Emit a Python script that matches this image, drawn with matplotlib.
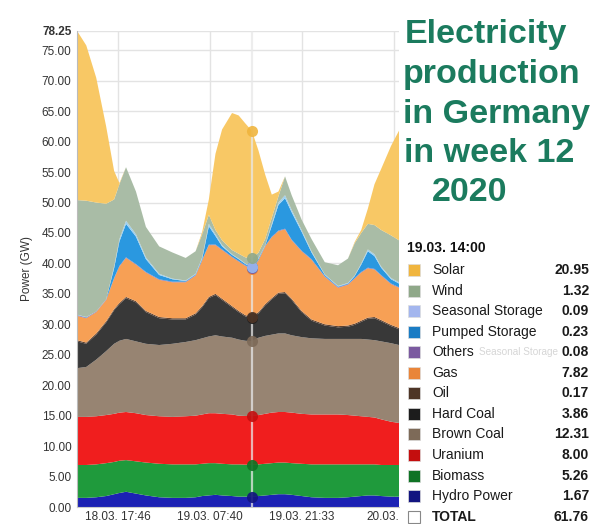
import numpy as np
import matplotlib
matplotlib.use('Agg')
import matplotlib.pyplot as plt
from matplotlib.patches import Rectangle
from matplotlib.transforms import ScaledTranslation

plt.rcParams['font.family'] = ['Liberation Sans', 'DejaVu Sans']

# ---------------- data (hours since 18.03.2020 00:00, GW) ----------------
hours = [11.6, 13, 14.5, 16, 17.2, 18, 19, 20.5, 22, 24, 26, 28, 29.5, 30.5, 31.5,
         32.5, 33.5, 35, 36, 37, 38, 39, 40, 41, 42, 43, 44, 45.5, 47, 49, 51,
         52.5, 53.5, 54.5, 55.5, 56.5, 57.5, 59, 60.2]

hydro = [1.5, 1.5, 1.6, 1.8, 2.1, 2.3, 2.5, 2.2, 1.9, 1.6, 1.5, 1.5, 1.6, 1.8, 1.9,
         2.0, 1.9, 1.8, 1.7, 1.7, 1.67, 1.8, 1.9, 2.0, 2.1, 2.1, 2.0, 1.8, 1.6, 1.5,
         1.5, 1.6, 1.7, 1.8, 1.9, 1.9, 1.8, 1.7, 1.7]
biomass = [5.4, 5.4, 5.4, 5.4, 5.3, 5.3, 5.2, 5.3, 5.4, 5.5, 5.5, 5.5, 5.4, 5.3, 5.3,
           5.2, 5.2, 5.2, 5.3, 5.25, 5.26, 5.2, 5.2, 5.2, 5.2, 5.2, 5.2, 5.3, 5.4, 5.5,
           5.5, 5.4, 5.3, 5.2, 5.1, 5.1, 5.1, 5.2, 5.2]
uranium = [7.9, 7.9, 7.9, 7.9, 7.9, 7.9, 7.9, 7.9, 7.8, 7.8, 7.8, 7.9, 8.0, 8.1, 8.2,
           8.2, 8.2, 8.2, 8.0, 8.0, 8.00, 8.1, 8.2, 8.3, 8.3, 8.3, 8.3, 8.2, 8.2, 8.2,
           8.2, 8.1, 8.0, 7.9, 7.8, 7.7, 7.5, 7.1, 6.9]
brown_coal = [8.0, 8.2, 9.3, 10.5, 11.5, 11.8, 12.0, 11.8, 11.7, 11.7, 12.0, 12.2, 12.4,
              12.5, 12.6, 12.8, 12.7, 12.6, 12.5, 12.35, 12.31, 12.7, 12.8, 12.8, 12.9,
              12.9, 12.7, 12.6, 12.5, 12.4, 12.4, 12.5, 12.6, 12.7, 12.7, 12.7, 12.8,
              12.9, 12.8]
hard_coal = [4.4, 3.8, 4.1, 4.7, 5.5, 6.0, 6.7, 6.4, 5.2, 4.4, 4.0, 3.7, 4.2, 5.1, 6.3,
             6.6, 6.0, 5.0, 4.5, 4.0, 3.86, 4.0, 5.0, 5.8, 6.5, 6.6, 5.8, 4.1, 2.9, 2.2,
             1.9, 2.0, 2.3, 2.8, 3.4, 3.6, 3.3, 2.8, 2.6]
oil = [0.2, 0.2, 0.2, 0.2, 0.2, 0.2, 0.2, 0.2, 0.2, 0.2, 0.2, 0.2, 0.2, 0.2, 0.2,
       0.2, 0.2, 0.2, 0.2, 0.2, 0.17, 0.2, 0.2, 0.2, 0.2, 0.2, 0.2, 0.2, 0.2, 0.2,
       0.2, 0.2, 0.2, 0.2, 0.2, 0.2, 0.2, 0.2, 0.2]
gas = [4.0, 4.0, 3.5, 3.5, 5.0, 6.0, 6.4, 6.0, 6.3, 6.1, 5.9, 5.9, 6.2, 7.5, 8.5,
       8.0, 8.0, 8.0, 8.1, 8.1, 7.82, 8.5, 9.5, 10.0, 10.1, 10.3, 9.6, 9.8, 9.8, 7.8,
       6.3, 6.7, 7.4, 7.9, 8.1, 7.8, 7.3, 6.7, 6.6]
others = [0.1, 0.1, 0.1, 0.1, 0.1, 0.1, 0.1, 0.1, 0.1, 0.1, 0.1, 0.1, 0.1, 0.1, 0.1,
          0.1, 0.1, 0.1, 0.1, 0.1, 0.08, 0.1, 0.1, 0.1, 0.1, 0.1, 0.1, 0.1, 0.1, 0.1,
          0.1, 0.1, 0.1, 0.1, 0.1, 0.1, 0.1, 0.1, 0.1]
pumped_storage = [0.05, 0.05, 0.0, 0.0, 1.6, 4.0, 5.5, 4.5, 2.1, 0.7, 0.4, 0.1, 0.1, 0.2,
                  3.0, 1.4, 0.5, 0.3, 0.3, 0.2, 0.23, 0.2, 0.05, 1.8, 4.2, 5.0, 4.5, 3.1,
                  1.1, 0.2, 0.1, 0.1, 0.3, 1.2, 2.7, 2.1, 1.2, 0.7, 0.6]
seasonal_storage = [0.05, 0.05, 0.0, 0.0, 0.3, 0.4, 0.5, 0.4, 0.3, 0.2, 0.1, 0.1, 0.1, 0.2,
                    0.4, 0.3, 0.2, 0.1, 0.1, 0.1, 0.09, 0.1, 0.05, 0.3, 0.4, 0.5, 0.4, 0.3,
                    0.2, 0.1, 0.1, 0.1, 0.1, 0.2, 0.3, 0.3, 0.2, 0.2, 0.2]
wind = [18.8, 19.1, 17.9, 15.7, 11.0, 9.0, 8.8, 7.0, 5.0, 4.5, 4.3, 3.7, 3.7, 3.8, 1.5,
        0.7, 0.8, 0.7, 0.8, 1.0, 1.32, 0.9, 1.0, 1.0, 1.0, 3.1, 2.4, 1.7, 2.0, 2.0,
        3.4, 4.0, 5.3, 5.0, 4.2, 4.8, 6.0, 7.0, 6.9]
solar = [27.8, 25.5, 20.5, 12.7, 4.7, 0.2, 0, 0, 0, 0, 0, 0, 0, 0.4, 2.5,
         12.5, 18.2, 22.5, 22.7, 22.0, 20.95, 16.7, 10.6, 3.8, 0.8, 0, 0, 0, 0, 0,
         0, 0, 0.2, 0.5, 2.5, 6.7, 10.0, 14.7, 18.0]

# bottom -> top stacking order
names = ['Hydro Power', 'Biomass', 'Uranium', 'Brown Coal', 'Hard Coal', 'Oil', 'Gas',
         'Others', 'Pumped Storage', 'Seasonal Storage', 'Wind', 'Solar']
series = [hydro, biomass, uranium, brown_coal, hard_coal, oil, gas, others,
          pumped_storage, seasonal_storage, wind, solar]
fill_colors = ['#1c22b4', '#1f9a3c', '#f01e1e', '#978472', '#383838', '#5b4030',
               '#f7a055', '#8a6aae', '#2a98e0', '#9fd0ef', '#a9bca6', '#f8c865']
mark_colors = ['#121480', '#0f7325', '#c40e0e', '#7d6a58', '#1c1c1c', '#4e3526',
               '#e9853a', '#7b5aa0', '#1a7cc4', '#a3b6ee', '#8fa889', '#f0b53e']

xtick_pos = [17 + 46 / 60, 31 + 40 / 60, 45 + 33 / 60, 59 + 26 / 60]
xtick_labels = ['18.03. 17:46', '19.03. 07:40', '19.03. 21:33', '20.03.']
ytick_pos = [0, 5, 10, 15, 20, 25, 30, 35, 40, 45, 50, 55, 60, 65, 70, 75, 78.25]

cursor_hour = 38.0
cursor_label = '19.03. 14:00'

title_lines = ['Electricity', 'production', 'in Germany', 'in week 12', '2020']

# ---------------- figure ----------------
W, H = 594, 524
fig = plt.figure(figsize=(W / 100, H / 100), dpi=100)
fig.patch.set_facecolor('white')


def fx(px):
    return px / W


def fy(py):
    return 1 - py / H


ax = fig.add_axes([fx(77), fy(507), fx(399) - fx(77), fy(30.5) - fy(507)])
ax.stackplot(hours, *series, colors=fill_colors, linewidth=0, zorder=2)

ax.set_xlim(hours[0], hours[-1])
ax.set_ylim(0, 78.25)
ax.set_yticks(ytick_pos)
ax.set_yticklabels(['%.2f' % v for v in ytick_pos])
ax.set_xticks(xtick_pos)
ax.set_xticklabels(xtick_labels)
ax.tick_params(axis='both', length=0, labelsize=8.5, labelcolor='#333333')
ax.tick_params(axis='y', pad=4)
ax.tick_params(axis='x', pad=3)
ax.get_yticklabels()[-1].set_fontweight('bold')
ax.grid(True, color='#e3e3e3', linewidth=1.0, zorder=0)
ax.set_axisbelow(True)
for s in ['top', 'right']:
    ax.spines[s].set_visible(False)
ax.spines['left'].set_color('#bbbbbb')
ax.spines['bottom'].set_color('#cccccc')
ax.set_ylabel('Power (GW)', fontsize=8.5, color='#333333', labelpad=6)

# shift last (truncated) x label slightly left
lab = ax.get_xticklabels()[-1]
lab.set_transform(lab.get_transform() + ScaledTranslation(-0.115, 0, fig.dpi_scale_trans))

# cursor line and markers
ci = hours.index(cursor_hour)
ax.axvline(cursor_hour, color='#e8e8e8', alpha=0.75, linewidth=1.6, zorder=3)
cum = np.cumsum([s[ci] for s in series])
for k in range(len(series)):
    ax.plot(cursor_hour, cum[k], 'o', ms=8, color=mark_colors[k], zorder=4,
            markeredgewidth=0, alpha=0.9)

# ---------------- title ----------------
title_color = '#1b7b5e'
baselines = [43, 83, 123, 162, 201]
lefts = [405, 403, 403, 404, 432]
for t, b, l in zip(title_lines, baselines, lefts):
    fig.text(fx(l), fy(b), t, fontsize=24.5, fontweight='bold', color=title_color,
             ha='left', va='baseline')

# ---------------- tooltip legend ----------------
fig.text(fx(407), fy(248), cursor_label, fontsize=10, fontweight='bold',
         color='#111111', ha='left', va='center')
# faint ghost text seen behind the tooltip
fig.text(fx(479), fy(352), 'Seasonal Storage', fontsize=7.2, color='#d6d6d6',
         ha='left', va='center', zorder=1)

legend_order = list(range(len(series)))[::-1]  # Solar ... Hydro
row0, dy = 270, 20.55
for r, k in enumerate(legend_order):
    yc = row0 + r * dy
    fig.add_artist(Rectangle((fx(408), fy(yc + 6)), fx(12), 12 / H,
                             transform=fig.transFigure, facecolor=mark_colors[k],
                             edgecolor='#dddddd', linewidth=0.5, zorder=3))
    fig.text(fx(432), fy(yc), names[k], fontsize=10, color='#1a1a1a',
             ha='left', va='center', zorder=3)
    fig.text(fx(589), fy(yc), '%.2f' % series[k][ci], fontsize=10, fontweight='bold',
             color='#1a1a1a', ha='right', va='center', zorder=3)

yc = row0 + len(series) * dy
fig.add_artist(Rectangle((fx(408), fy(yc + 6)), fx(12), 12 / H,
                         transform=fig.transFigure, facecolor='white',
                         edgecolor='#888888', linewidth=0.8, zorder=3))
fig.text(fx(432), fy(yc), 'TOTAL', fontsize=10, fontweight='bold', color='#1a1a1a',
         ha='left', va='center')
fig.text(fx(589), fy(yc), '%.2f' % cum[-1], fontsize=10, fontweight='bold',
         color='#1a1a1a', ha='right', va='center')

fig.savefig('out.png', dpi=100, facecolor='white')
